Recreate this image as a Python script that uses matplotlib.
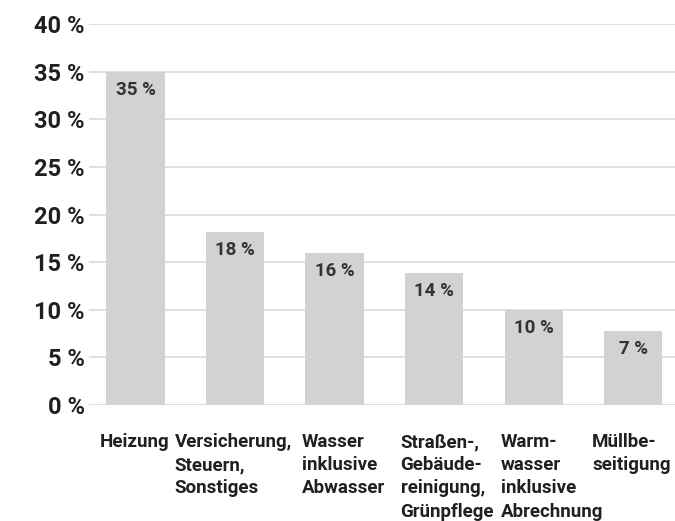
import matplotlib
matplotlib.use("Agg")
import matplotlib.pyplot as plt
from matplotlib.ticker import FixedLocator

categories = ["Heizung", "Versicherung,\nSteuern,\nSonstiges", "Wasser\ninklusive\nAbwasser",
              "Straßen-,\nGebäude-\nreinigung,\nGrünpflege", "Warm-\nwasser\ninklusive\nAbrechnung",
              "Müllbe-\nseitigung"]
values = [35, 18.2, 16, 13.9, 10, 7.8]
value_labels = ["35 %", "18 %", "16 %", "14 %", "10 %", "7 %"]
yticks = [0, 5, 10, 15, 20, 25, 30, 35, 40]
ytick_labels = ["0 %", "5 %", "10 %", "15 %", "20 %", "25 %", "30 %", "35 %", "40 %"]

# layout: left edge of each category label relative to bar centre (pixels)
label_dx = [-35.5, -60.5, -32.5, -33.5, -33, -41]
line_step = 23.2

plt.rcParams['font.family'] = ['Roboto', 'DejaVu Sans']
W, H = 675, 521
fig = plt.figure(figsize=(W/100, H/100), dpi=100)
ax = fig.add_axes([89/W, 1-405/H, 1-89/W, (405-24)/H])

x = list(range(len(categories)))
ax.bar(x, values, width=0.585, color="#d1d2d4", zorder=2)
ax.set_xlim(-0.467, 5.42)
ax.set_ylim(0, 40)
ax.yaxis.set_major_locator(FixedLocator(yticks))
ax.set_yticklabels(ytick_labels, fontsize=17, fontweight='bold', color="#231f20")
ax.grid(axis='y', color="#d9d9d9", linewidth=1.2, zorder=0)
ax.set_xticks([])
ax.tick_params(axis='y', length=0, pad=3)
for s in ax.spines.values():
    s.set_visible(False)
ax.set_axisbelow(True)

for xi, v, lab in zip(x, values, value_labels):
    ax.annotate(lab, (xi, v), xytext=(0, -18), textcoords='offset pixels',
                ha='center', va='center', fontsize=13.5, fontweight='bold', color="#333333")

for xi, c, dx in zip(x, categories, label_dx):
    for i, line in enumerate(c.split("\n")):
        ax.annotate(line, (xi, 0), xytext=(dx, -28 - i * line_step), textcoords='offset pixels',
                    ha='left', va='top', fontsize=13.5, fontweight='bold',
                    color="#231f20", annotation_clip=False)

fig.savefig("out.png", dpi=100)
